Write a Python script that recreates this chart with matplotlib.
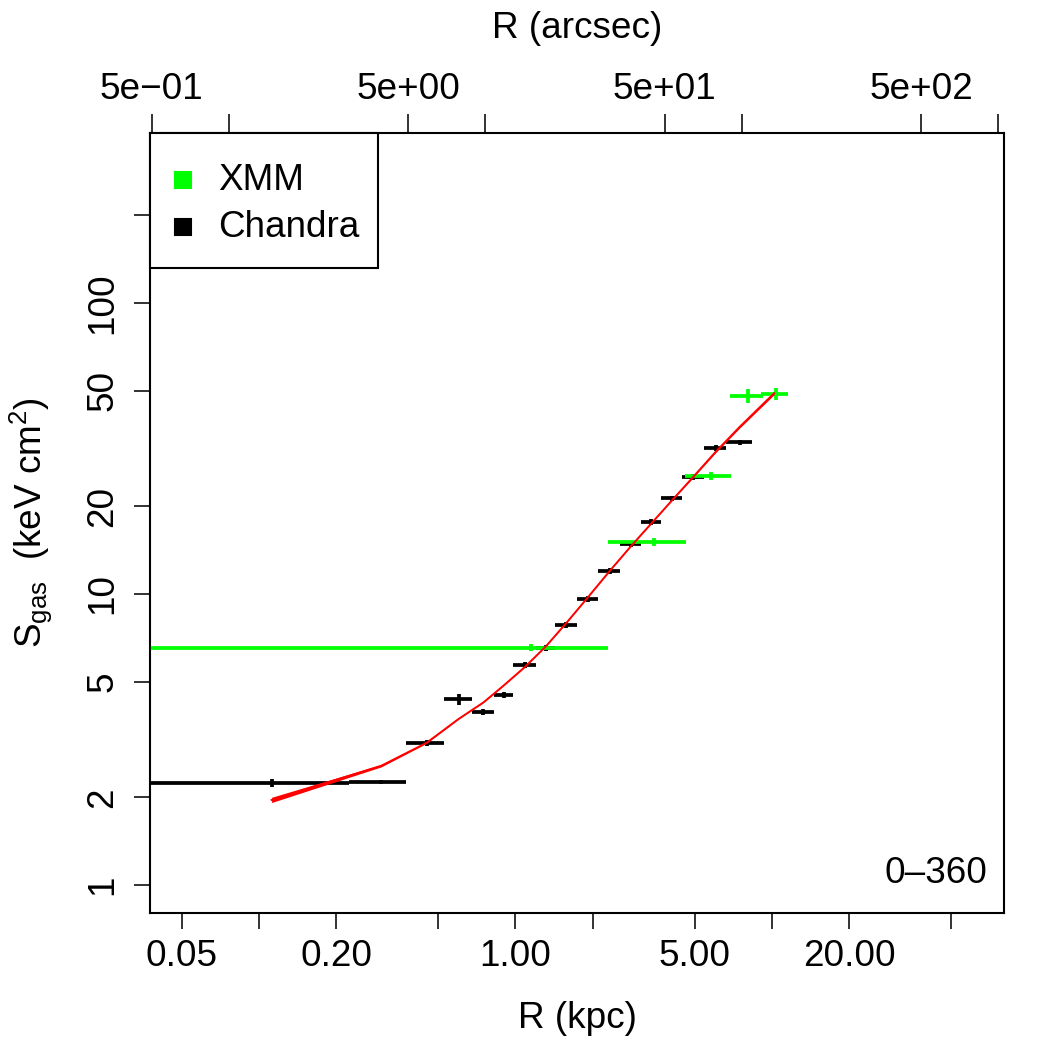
import numpy as np
import matplotlib.pyplot as plt
from matplotlib.patches import Rectangle
from matplotlib.ticker import NullLocator

plt.rcParams['font.family'] = ['Liberation Sans', 'DejaVu Sans']
plt.rcParams['mathtext.fontset'] = 'custom'
plt.rcParams['mathtext.rm'] = 'Liberation Sans'
plt.rcParams['mathtext.it'] = 'Liberation Sans:italic'

# Chandra annuli (kpc) and gas entropy (keV cm^2)
chandra_rin = [0.0, 0.224, 0.376, 0.525, 0.675, 0.825, 0.976, 1.20, 1.427,
               1.73, 2.10, 2.56, 3.085, 3.69, 4.44, 5.43, 6.63]
chandra_rout = [0.224, 0.376, 0.525, 0.675, 0.825, 0.976, 1.20, 1.427, 1.73,
                2.10, 2.56, 3.085, 3.69, 4.44, 5.43, 6.63, 8.36]
chandra_s = [2.236, 2.254, 3.08, 4.35, 3.93, 4.49, 5.70, 6.52, 7.83,
             9.61, 12.0, 14.89, 17.68, 21.3, 25.2, 31.8, 33.2]
chandra_err = [0.07, 0.035, 0.07, 0.19, 0.09, 0.1, 0.13, 0.15, 0.18,
               0.22, 0.27, 0.34, 0.4, 0.48, 0.57, 0.72, 0.75]

# XMM annuli
xmm_rin = [0.0, 2.29, 4.60, 6.84, 9.09]
xmm_rout = [2.29, 4.63, 6.93, 9.23, 11.59]
xmm_s = [6.54, 15.1, 25.4, 48.0, 48.7]
xmm_err = [0.19, 0.48, 0.8, 2.6, 2.3]

# model profile and its band (dex)
model_r = [0.112, 0.300, 0.45, 0.60, 0.75, 0.90, 1.09, 1.31, 1.58, 1.91,
           2.33, 2.82, 3.39, 4.06, 4.94, 6.03, 7.50, 10.2]
model_s = [1.96, 2.57, 3.08, 3.72, 4.24, 4.85, 5.62, 6.59, 7.96, 9.71,
           12.0, 14.6, 17.5, 20.9, 25.3, 30.8, 37.6, 49.0]
model_dex = [0.009, 0.004, 0.002, 0.001, 0.001, 0.001, 0.001, 0.001, 0.001,
             0.001, 0.001, 0.001, 0.001, 0.001, 0.002, 0.003, 0.004, 0.005]

arcsec_per_kpc = 13.09

x_ticks = [0.05, 0.1, 0.2, 0.5, 1, 2, 5, 10, 20, 50]
x_labels = ['0.05', '', '0.20', '', '1.00', '', '5.00', '', '20.00', '']
top_ticks = [0.5, 1, 5, 10, 50, 100, 500, 1000]
top_labels = ['5e\u221201', '', '5e+00', '', '5e+01', '', '5e+02', '']
y_ticks = [1, 2, 5, 10, 20, 50, 100, 200]
y_labels = ['1', '2', '5', '10', '20', '50', '100', '']

legend_names = ['XMM', 'Chandra']
legend_colors = ['#00ff00', 'black']

FS = 17.7


def draw_bins(ax, rin, rout, s, err, color):
    rin = np.maximum(np.array(rin), 1e-3)
    rout = np.array(rout)
    mid = (rin + rout) / 2
    mid = np.where(rin <= 1e-3, rout / 2, mid)
    ax.errorbar(mid, s, xerr=[mid - rin, rout - mid], yerr=err, fmt='none',
                ecolor=color, elinewidth=1.8, capsize=0, zorder=3)


fig = plt.figure(figsize=(7, 7), dpi=150)
ax = fig.add_axes([150 / 1050, 1 - 913 / 1050, 854 / 1050, 780 / 1050])
ax.set_xscale('log')
ax.set_yscale('log')
xlim = (0.0376, 80.3)
ax.set_xlim(*xlim)
ax.set_ylim(0.801, 384)

draw_bins(ax, chandra_rin, chandra_rout, chandra_s, chandra_err, 'black')
draw_bins(ax, xmm_rin, xmm_rout, xmm_s, xmm_err, '#00ff00')

mr = np.array(model_r)
ms = np.array(model_s)
md = np.array(model_dex)
ax.fill_between(mr, ms * 10 ** -md, ms * 10 ** md, color='red', lw=0, zorder=4)
ax.plot(mr, ms, color='red', lw=0.9, zorder=4)

ax.set_xticks(x_ticks)
ax.set_xticklabels(x_labels)
ax.set_yticks(y_ticks)
ax.set_yticklabels(y_labels)
ax.xaxis.set_minor_locator(NullLocator())
ax.yaxis.set_minor_locator(NullLocator())
ax.tick_params(axis='both', direction='out', length=7.7, width=0.75,
               labelsize=FS)
ax.tick_params(axis='x', pad=5)
ax.tick_params(axis='y', pad=6.5, labelrotation=90)
for lab in ax.get_yticklabels():
    lab.set_va('center')
for sp in ax.spines.values():
    sp.set_linewidth(1.0)

ax2 = ax.twiny()
ax2.set_xscale('log')
ax2.set_xlim(xlim[0] * arcsec_per_kpc, xlim[1] * arcsec_per_kpc)
ax2.set_xticks(top_ticks)
ax2.set_xticklabels(top_labels)
ax2.xaxis.set_minor_locator(NullLocator())
ax2.tick_params(axis='x', direction='out', length=9, width=0.75,
                labelsize=FS, pad=3.5)

fig.text(577 / 1050, 1 - 1018 / 1050, 'R (kpc)', ha='center', va='center',
         fontsize=FS)
fig.text(577 / 1050, 1 - 29 / 1050, 'R (arcsec)', ha='center', va='center',
         fontsize=FS)
fig.text(31 / 1050, 1 - 523 / 1050,
         r'$\mathregular{S_{gas}}$  (keV cm$^\mathregular{2}$)',
         ha='center', va='center', rotation=90, fontsize=FS)

ax.text(0.980, 0.0385, '0\u2013360', transform=ax.transAxes, ha='right',
        va='baseline', fontsize=FS)

# legend box, R style
ax.add_patch(Rectangle((0, 0.827), 0.267, 0.173, transform=ax.transAxes,
                       facecolor='white', edgecolor='black', lw=1.0,
                       zorder=5, clip_on=False))
for i, (name, col) in enumerate(zip(legend_names, legend_colors)):
    yy = 0.9397 - i * 0.0603
    ax.plot([0.0386], [yy], marker='s', ms=8, color=col, ls='none',
            transform=ax.transAxes, zorder=6, clip_on=False)
    ax.text(0.0796, yy, name, transform=ax.transAxes, ha='left', va='center',
            fontsize=FS, zorder=6)

fig.savefig('out.png', dpi=150)
